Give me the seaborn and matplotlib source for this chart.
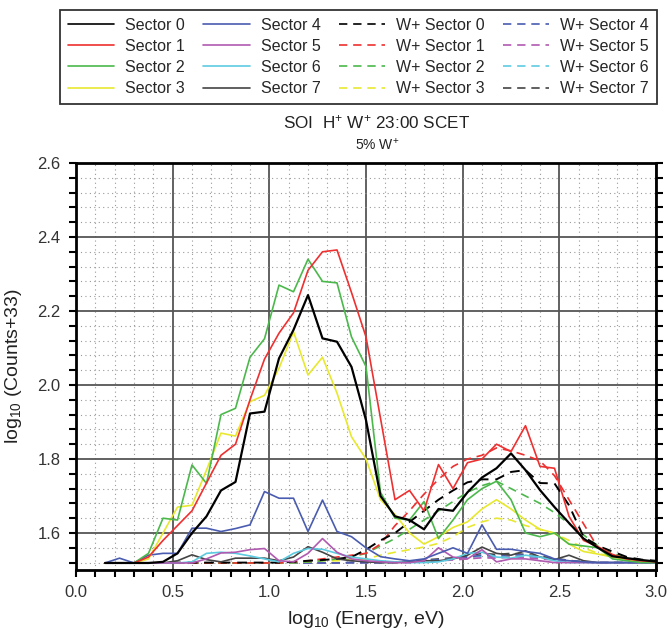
import numpy as np
import pandas as pd
import matplotlib
matplotlib.use("Agg")
import matplotlib.pyplot as plt
import seaborn as sns
from matplotlib.lines import Line2D
from matplotlib.ticker import MultipleLocator

# ---------------- data ----------------
energy = [0.15, 0.225, 0.30, 0.375, 0.45, 0.525, 0.60, 0.675, 0.75, 0.825,
          0.90, 0.975, 1.05, 1.125, 1.20, 1.275, 1.35, 1.425, 1.50, 1.575,
          1.65, 1.725, 1.80, 1.875, 1.95, 2.025, 2.10, 2.175, 2.25, 2.325,
          2.40, 2.475, 2.55, 2.625, 2.70, 2.775, 2.85, 2.925, 3.00]

sector0 = [1.519, 1.519, 1.519, 1.519, 1.522, 1.545, 1.600, 1.645, 1.715, 1.738,
           1.923, 1.928, 2.072, 2.149, 2.243, 2.126, 2.117, 2.049, 1.905, 1.700,
           1.645, 1.635, 1.610, 1.665, 1.660, 1.710, 1.750, 1.775, 1.815, 1.770,
           1.716, 1.670, 1.627, 1.585, 1.560, 1.537, 1.532, 1.527, 1.523]
sector1 = [1.519, 1.519, 1.519, 1.535, 1.580, 1.620, 1.660, 1.735, 1.810, 1.840,
           1.960, 2.070, 2.140, 2.195, 2.310, 2.360, 2.365, 2.250, 2.130, 1.910,
           1.690, 1.715, 1.660, 1.785, 1.720, 1.790, 1.800, 1.840, 1.820, 1.890,
           1.780, 1.775, 1.645, 1.580, 1.563, 1.542, 1.530, 1.525, 1.522]
sector2 = [1.519, 1.519, 1.519, 1.545, 1.640, 1.635, 1.784, 1.734, 1.920, 1.937,
           2.075, 2.125, 2.270, 2.252, 2.340, 2.280, 2.276, 2.130, 2.050, 1.710,
           1.640, 1.635, 1.685, 1.585, 1.635, 1.690, 1.720, 1.740, 1.690, 1.600,
           1.590, 1.600, 1.570, 1.565, 1.560, 1.530, 1.525, 1.520, 1.520]
sector3 = [1.519, 1.519, 1.519, 1.530, 1.600, 1.670, 1.675, 1.770, 1.870, 1.862,
           1.955, 1.972, 2.045, 2.144, 2.027, 2.075, 1.978, 1.860, 1.800, 1.690,
           1.650, 1.600, 1.570, 1.590, 1.615, 1.630, 1.665, 1.690, 1.665, 1.635,
           1.610, 1.600, 1.570, 1.550, 1.543, 1.535, 1.530, 1.525, 1.522]
sector4 = [1.519, 1.532, 1.519, 1.540, 1.545, 1.545, 1.613, 1.613, 1.604, 1.612,
           1.622, 1.712, 1.694, 1.694, 1.604, 1.689, 1.604, 1.590, 1.560, 1.536,
           1.530, 1.525, 1.530, 1.545, 1.560, 1.545, 1.622, 1.556, 1.556, 1.550,
           1.545, 1.530, 1.525, 1.522, 1.520, 1.520, 1.520, 1.520, 1.520]
sector5 = [1.519, 1.519, 1.519, 1.519, 1.519, 1.519, 1.519, 1.530, 1.546, 1.548,
           1.555, 1.558, 1.525, 1.522, 1.545, 1.585, 1.548, 1.530, 1.525, 1.522,
           1.520, 1.520, 1.525, 1.560, 1.535, 1.530, 1.555, 1.522, 1.530, 1.530,
           1.525, 1.520, 1.520, 1.520, 1.520, 1.520, 1.520, 1.520, 1.520]
sector6 = [1.519, 1.519, 1.519, 1.519, 1.519, 1.519, 1.522, 1.545, 1.548, 1.545,
           1.538, 1.530, 1.522, 1.545, 1.558, 1.556, 1.545, 1.535, 1.530, 1.525,
           1.522, 1.520, 1.520, 1.522, 1.530, 1.545, 1.548, 1.535, 1.532, 1.540,
           1.535, 1.525, 1.520, 1.520, 1.520, 1.520, 1.520, 1.520, 1.520]
sector7 = [1.519, 1.519, 1.519, 1.519, 1.519, 1.525, 1.541, 1.528, 1.522, 1.532,
           1.532, 1.532, 1.525, 1.535, 1.563, 1.548, 1.530, 1.525, 1.522, 1.520,
           1.520, 1.522, 1.525, 1.525, 1.530, 1.540, 1.562, 1.545, 1.540, 1.552,
           1.535, 1.528, 1.540, 1.525, 1.520, 1.520, 1.520, 1.520, 1.520]

wsector0 = [1.519, 1.519, 1.519, 1.519, 1.519, 1.520, 1.520, 1.520, 1.520, 1.520,
            1.520, 1.520, 1.520, 1.522, 1.525, 1.527, 1.530, 1.535, 1.555, 1.580,
            1.600, 1.630, 1.660, 1.690, 1.715, 1.737, 1.745, 1.745, 1.765, 1.770,
            1.735, 1.734, 1.675, 1.590, 1.565, 1.550, 1.535, 1.528, 1.525]
wsector1 = [1.519, 1.519, 1.519, 1.519, 1.519, 1.519, 1.519, 1.519, 1.519, 1.519,
            1.519, 1.519, 1.519, 1.522, 1.525, 1.530, 1.535, 1.540, 1.545, 1.570,
            1.620, 1.660, 1.705, 1.745, 1.780, 1.800, 1.810, 1.830, 1.822, 1.810,
            1.795, 1.755, 1.690, 1.625, 1.560, 1.540, 1.528, 1.522, 1.520]
wsector2 = [1.519, 1.519, 1.519, 1.519, 1.519, 1.519, 1.519, 1.519, 1.519, 1.519,
            1.519, 1.519, 1.519, 1.520, 1.522, 1.525, 1.530, 1.535, 1.545, 1.565,
            1.585, 1.610, 1.635, 1.660, 1.685, 1.710, 1.728, 1.740, 1.720, 1.700,
            1.680, 1.655, 1.625, 1.595, 1.565, 1.545, 1.532, 1.525, 1.520]
wsector3 = [1.519, 1.519, 1.519, 1.519, 1.519, 1.519, 1.519, 1.519, 1.519, 1.519,
            1.519, 1.519, 1.519, 1.520, 1.522, 1.525, 1.525, 1.528, 1.530, 1.540,
            1.548, 1.555, 1.562, 1.572, 1.590, 1.615, 1.630, 1.640, 1.635, 1.620,
            1.610, 1.598, 1.580, 1.560, 1.545, 1.535, 1.528, 1.522, 1.520]
wsector4 = [1.519, 1.519, 1.519, 1.519, 1.519, 1.519, 1.519, 1.519, 1.519, 1.519,
            1.519, 1.519, 1.519, 1.519, 1.519, 1.519, 1.519, 1.520, 1.520, 1.520,
            1.522, 1.522, 1.525, 1.528, 1.530, 1.535, 1.540, 1.538, 1.542, 1.540,
            1.535, 1.530, 1.525, 1.522, 1.520, 1.520, 1.520, 1.520, 1.520]
wsector5 = [1.519, 1.519, 1.519, 1.519, 1.519, 1.519, 1.519, 1.519, 1.519, 1.519,
            1.519, 1.519, 1.519, 1.519, 1.519, 1.519, 1.519, 1.520, 1.520, 1.520,
            1.520, 1.520, 1.522, 1.525, 1.527, 1.530, 1.533, 1.532, 1.535, 1.533,
            1.530, 1.527, 1.523, 1.521, 1.520, 1.520, 1.520, 1.520, 1.520]
wsector6 = [1.519, 1.519, 1.519, 1.519, 1.519, 1.519, 1.519, 1.519, 1.519, 1.519,
            1.519, 1.519, 1.519, 1.519, 1.519, 1.519, 1.519, 1.520, 1.520, 1.520,
            1.520, 1.522, 1.524, 1.527, 1.530, 1.534, 1.537, 1.535, 1.538, 1.536,
            1.532, 1.528, 1.524, 1.521, 1.520, 1.520, 1.520, 1.520, 1.520]
wsector7 = [1.519, 1.519, 1.519, 1.519, 1.519, 1.519, 1.519, 1.519, 1.519, 1.519,
            1.519, 1.519, 1.519, 1.519, 1.519, 1.519, 1.519, 1.520, 1.520, 1.520,
            1.522, 1.524, 1.527, 1.530, 1.533, 1.538, 1.545, 1.542, 1.545, 1.542,
            1.537, 1.532, 1.526, 1.522, 1.520, 1.520, 1.520, 1.520, 1.520]

sector_labels = ["Sector 0", "Sector 1", "Sector 2", "Sector 3",
                 "Sector 4", "Sector 5", "Sector 6", "Sector 7"]
wsector_labels = ["W+ Sector 0", "W+ Sector 1", "W+ Sector 2", "W+ Sector 3",
                  "W+ Sector 4", "W+ Sector 5", "W+ Sector 6", "W+ Sector 7"]
sector_values = [sector0, sector1, sector2, sector3, sector4, sector5, sector6, sector7]
wsector_values = [wsector0, wsector1, wsector2, wsector3, wsector4, wsector5, wsector6, wsector7]

colors = ["#000000", "#ee3030", "#4cb84c", "#e8e830",
          "#4a5cb0", "#b05ab0", "#5ccbe0", "#444444"]

# ---------------- figure ----------------
sns.set_theme(style="white")
plt.rcParams["font.family"] = ["Liberation Sans", "DejaVu Sans"]
plt.rcParams["mathtext.fontset"] = "custom"
plt.rcParams["mathtext.rm"] = "Liberation Sans"
plt.rcParams["mathtext.default"] = "regular"

fig = plt.figure(figsize=(6.72, 6.3), dpi=100)
ax = fig.add_axes([76 / 672, 1 - 570 / 630, 580 / 672, 407 / 630])

rows = []
for lab, vals in zip(sector_labels, sector_values):
    for e, v in zip(energy, vals):
        rows.append((lab, e, v))
for lab, vals in zip(wsector_labels, wsector_values):
    for e, v in zip(energy, vals):
        rows.append((lab, e, v))
df = pd.DataFrame(rows, columns=["series", "energy", "counts"])

# dashed W+ first, then solid sectors (sector 0 on top)
for i in range(7, -1, -1):
    sub = df[df["series"] == wsector_labels[i]]
    sns.lineplot(data=sub, x="energy", y="counts", ax=ax, color=colors[i],
                 lw=1.4 if i == 0 else 1.2, linestyle=(0, (5, 3.5)),
                 estimator=None, sort=False, legend=False)
for i in range(7, -1, -1):
    sub = df[df["series"] == sector_labels[i]]
    sns.lineplot(data=sub, x="energy", y="counts", ax=ax, color=colors[i],
                 lw=1.6 if i == 0 else 1.2, linestyle="-",
                 estimator=None, sort=False, legend=False)

ax.set_xlim(0.0, 3.0)
ax.set_ylim(1.5, 2.6)
ax.xaxis.set_major_locator(MultipleLocator(0.5))
ax.xaxis.set_minor_locator(MultipleLocator(0.1))
ax.yaxis.set_major_locator(MultipleLocator(0.2))
ax.yaxis.set_minor_locator(MultipleLocator(0.04))

ax.grid(which="major", color="#555555", lw=1.3, ls="-")
ax.grid(which="minor", color="#9a9a9a", lw=0.8, ls=(0, (1, 3)))
ax.set_axisbelow(True)

for s in ax.spines.values():
    s.set_visible(True)
    s.set_color("black")
    s.set_linewidth(2.0)

ax.tick_params(which="both", direction="out", length=5, width=1.5, color="black",
               left=True, bottom=True, right=True, top=False,
               labelsize=12, labelcolor="#333333", pad=6)

ax.set_xlabel("log$_{10}$ (Energy, eV)", fontsize=14, color="#222222", labelpad=6)
ax.set_ylabel("log$_{10}$ (Counts+33)", fontsize=14, color="#222222", labelpad=10)

fig.text(377 / 672, 1 - 122 / 630, "SOI  H$^{+}$ W$^{+}$ 23:00 SCET",
         ha="center", va="center", fontsize=12.3, color="#222222")
fig.text(377 / 672, 1 - 145 / 630, "5% W$^{+}$",
         ha="center", va="center", fontsize=10, color="#222222")

handles = []
labels = []
for i in range(8):
    handles.append(Line2D([], [], color=colors[i], lw=1.2, ls="-"))
    labels.append(sector_labels[i])
for i in range(8):
    handles.append(Line2D([], [], color=colors[i], lw=1.2, ls=(0, (5, 3.5))))
    labels.append(wsector_labels[i])

leg = fig.legend(handles, labels, ncol=4, loc="upper left",
                 bbox_to_anchor=(60 / 672, 1 - 10 / 630, 597 / 672, 0.0001),
                 mode="expand", frameon=True, fancybox=False, shadow=False,
                 fontsize=11.5, handlelength=2.9, handletextpad=0.7,
                 labelspacing=0.38, borderpad=0.5, borderaxespad=0,
                 columnspacing=0.8)
leg.get_frame().set_edgecolor("black")
leg.get_frame().set_linewidth(1.3)

fig.savefig("out.png", dpi=100)
